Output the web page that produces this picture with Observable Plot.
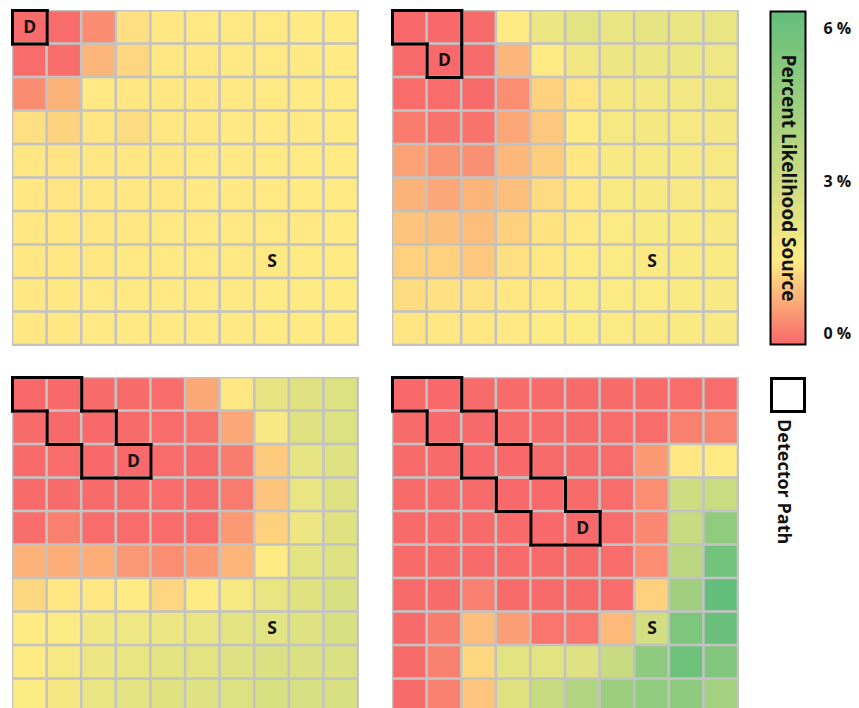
<!DOCTYPE html>
<html>
<head>
<meta charset="utf-8">
<script src="https://cdn.jsdelivr.net/npm/d3@7"></script>
<script src="https://cdn.jsdelivr.net/npm/@observablehq/plot@0.6"></script>
<style>
  html, body { margin: 0; padding: 0; background: #fff; overflow: hidden; }
  #wrap { position: relative; width: 859px; height: 708px; overflow: hidden; font-family: "Open Sans", sans-serif; color: #111; }
  #grids { position: absolute; left: 0; top: 0; }
  #scale { position: absolute; left: 750px; top: 0; }
  #pathKey { position: absolute; left: 770px; top: 377px; width: 30px; height: 30px; border: 3px solid #000; background: #fff; }
  #pathLabel { position: absolute; left: 774px; top: 419px; writing-mode: vertical-rl; font-size: 18px; font-weight: 700; line-height: 22px; }
</style>
</head>
<body>
<div id="wrap">
  <div id="grids"></div>
  <div id="scale"></div>
  <div id="pathKey"></div>
  <div id="pathLabel">Detector Path</div>
</div>
<script>
// Percent likelihood that each cell of the 10 x 10 area holds the source,
// after each of four detector moves (rows top to bottom, columns left to right).
const step1 = [
  [0.02, 0.03, 0.40, 1.36, 1.47, 1.48, 1.48, 1.48, 1.49, 1.49],
  [0.03, 0.04, 0.88, 1.25, 1.46, 1.46, 1.48, 1.48, 1.48, 1.49],
  [0.40, 0.85, 1.48, 1.45, 1.47, 1.47, 1.48, 1.48, 1.49, 1.49],
  [1.36, 1.22, 1.44, 1.33, 1.47, 1.47, 1.48, 1.48, 1.48, 1.49],
  [1.45, 1.42, 1.47, 1.46, 1.47, 1.48, 1.48, 1.48, 1.49, 1.49],
  [1.46, 1.42, 1.47, 1.47, 1.47, 1.48, 1.48, 1.48, 1.49, 1.49],
  [1.47, 1.46, 1.47, 1.47, 1.48, 1.48, 1.48, 1.48, 1.48, 1.49],
  [1.47, 1.47, 1.47, 1.48, 1.48, 1.48, 1.48, 1.48, 1.49, 1.49],
  [1.47, 1.47, 1.48, 1.48, 1.48, 1.48, 1.48, 1.49, 1.49, 1.49],
  [1.47, 1.47, 1.48, 1.48, 1.48, 1.48, 1.48, 1.49, 1.49, 1.49]
];
const step2 = [
  [0.00, 0.00, 0.02, 1.50, 2.05, 2.35, 2.10, 2.20, 2.10, 2.10],
  [0.02, 0.00, 0.02, 0.88, 1.50, 1.88, 2.00, 2.05, 2.05, 1.95],
  [0.03, 0.03, 0.02, 0.42, 1.20, 1.42, 1.80, 1.85, 1.85, 1.90],
  [0.22, 0.12, 0.12, 0.70, 1.10, 1.50, 1.75, 1.78, 1.75, 1.80],
  [0.66, 0.50, 0.45, 0.90, 1.15, 1.47, 1.68, 1.72, 1.72, 1.75],
  [0.85, 0.72, 0.86, 1.00, 1.30, 1.45, 1.65, 1.66, 1.66, 1.68],
  [1.05, 1.00, 0.97, 1.20, 1.40, 1.48, 1.58, 1.63, 1.63, 1.66],
  [1.20, 1.20, 1.10, 1.37, 1.47, 1.50, 1.60, 1.60, 1.62, 1.64],
  [1.33, 1.38, 1.40, 1.45, 1.48, 1.55, 1.60, 1.60, 1.63, 1.66],
  [1.43, 1.45, 1.46, 1.48, 1.50, 1.55, 1.60, 1.62, 1.65, 1.68]
];
const step3 = [
  [0.00, 0.00, 0.02, 0.02, 0.03, 0.73, 1.47, 2.17, 2.40, 2.50],
  [0.02, 0.00, 0.00, 0.02, 0.03, 0.12, 0.72, 1.70, 2.40, 2.50],
  [0.02, 0.03, 0.00, 0.00, 0.03, 0.02, 0.22, 1.12, 2.20, 2.45],
  [0.02, 0.02, 0.02, 0.02, 0.03, 0.02, 0.20, 1.05, 2.10, 2.45],
  [0.06, 0.26, 0.05, 0.03, 0.03, 0.05, 0.55, 1.20, 2.00, 2.40],
  [0.84, 0.78, 0.79, 0.53, 0.42, 0.55, 0.86, 1.50, 2.25, 2.45],
  [1.28, 1.45, 1.47, 1.50, 1.25, 1.52, 1.75, 2.10, 2.40, 2.60],
  [1.50, 1.60, 1.90, 1.95, 2.00, 2.10, 2.30, 2.35, 2.45, 2.60],
  [1.50, 1.72, 2.00, 2.15, 2.25, 2.30, 2.45, 2.55, 2.55, 2.55],
  [1.55, 1.80, 2.10, 2.25, 2.40, 2.45, 2.50, 2.60, 2.65, 2.60]
];
const step4 = [
  [0.00, 0.00, 0.02, 0.02, 0.02, 0.02, 0.02, 0.02, 0.03, 0.04],
  [0.02, 0.00, 0.00, 0.02, 0.02, 0.02, 0.03, 0.05, 0.25, 0.32],
  [0.02, 0.02, 0.00, 0.00, 0.02, 0.02, 0.03, 0.55, 1.45, 1.50],
  [0.02, 0.02, 0.02, 0.00, 0.00, 0.02, 0.03, 0.42, 2.90, 3.05],
  [0.02, 0.02, 0.02, 0.02, 0.00, 0.00, 0.03, 0.35, 3.10, 4.70],
  [0.02, 0.02, 0.02, 0.02, 0.02, 0.02, 0.03, 0.42, 3.45, 5.55],
  [0.02, 0.02, 0.27, 0.02, 0.02, 0.02, 0.03, 1.20, 4.25, 6.00],
  [0.02, 0.22, 0.98, 0.60, 0.14, 0.16, 0.92, 2.80, 5.20, 5.80],
  [0.02, 0.28, 1.28, 2.30, 2.30, 2.45, 3.06, 4.73, 5.65, 5.10],
  [0.02, 0.28, 1.06, 2.40, 3.10, 3.78, 4.36, 4.65, 4.72, 4.15]
];

// Cells visited by the detector so far, as [row, column]
const path1 = [[0, 0]];
const path2 = [[0, 0], [0, 1], [1, 1]];
const path3 = [[0, 0], [0, 1], [1, 1], [1, 2], [2, 2], [2, 3]];
const path4 = [[0, 0], [0, 1], [1, 1], [1, 2], [2, 2], [2, 3], [3, 3], [3, 4], [4, 4], [4, 5]];

// Current detector cell and the true source cell
const detectorCells = [[0, 0], [1, 1], [2, 3], [4, 5]];
const sourceCell = [7, 7];

// Colour key
const keyTicks = [0, 3, 6];
const keyTickLabels = ["0 %", "3 %", "6 %"];
const keyTitle = "Percent Likelihood Source";

const colorScale = {
  type: "linear",
  domain: [0, 1.5, 6],
  range: ["#f8696b", "#ffeb84", "#63be7b"],
  interpolate: "rgb"
};

const grids = [step1, step2, step3, step4];
const paths = [path1, path2, path3, path4];
const col = (p) => p % 2;
const row = (p) => Math.floor(p / 2);

const cells = grids.flatMap((g, p) =>
  g.flatMap((vals, r) => vals.map((v, c) => ({p, r, c, v})))
);

// Trace the border of the union of visited cells as unit segments
function outline(list, p) {
  const has = new Set(list.map(([r, c]) => r + "," + c));
  const segs = [];
  for (const [r, c] of list) {
    if (!has.has((r - 1) + "," + c)) segs.push({p, x1: c, y1: r, x2: c + 1, y2: r});
    if (!has.has((r + 1) + "," + c)) segs.push({p, x1: c, y1: r + 1, x2: c + 1, y2: r + 1});
    if (!has.has(r + "," + (c - 1))) segs.push({p, x1: c, y1: r, x2: c, y2: r + 1});
    if (!has.has(r + "," + (c + 1))) segs.push({p, x1: c + 1, y1: r, x2: c + 1, y2: r + 1});
  }
  return segs;
}
const edges = paths.flatMap((list, p) => outline(list, p));

const labels = detectorCells.flatMap(([r, c], p) => [
  {p, r, c, t: "D"},
  {p, r: sourceCell[0], c: sourceCell[1], t: "S"}
]);

const gridPlot = Plot.plot({
  width: 750,
  height: 712,
  marginLeft: 12,
  marginRight: 12,
  marginTop: 10,
  marginBottom: 0,
  style: {fontFamily: "'Open Sans', sans-serif", background: "transparent"},
  x: {domain: [0, 10], axis: null},
  y: {domain: [0, 10], reverse: true, axis: null},
  fx: {domain: [0, 1], paddingInner: 34 / 380, paddingOuter: 0, round: false, axis: null},
  fy: {domain: [0, 1], paddingInner: 32 / 367, paddingOuter: 0, round: false, axis: null},
  color: colorScale,
  marks: [
    Plot.frame({fill: "#c3c3c3", stroke: "#c3c3c3", strokeWidth: 1}),
    Plot.rect(cells, {
      x1: "c", x2: (d) => d.c + 1, y1: "r", y2: (d) => d.r + 1,
      fill: "v", inset: 1.3,
      fx: (d) => col(d.p), fy: (d) => row(d.p)
    }),
    Plot.link(edges, {
      x1: "x1", y1: "y1", x2: "x2", y2: "y2",
      stroke: "#000", strokeWidth: 3, strokeLinecap: "square",
      fx: (d) => col(d.p), fy: (d) => row(d.p)
    }),
    Plot.text(labels, {
      x: (d) => d.c + 0.5, y: (d) => d.r + 0.5, text: "t",
      fontSize: 17.5, fontWeight: 700, fill: "#111",
      fx: (d) => col(d.p), fy: (d) => row(d.p)
    })
  ]
});
document.getElementById("grids").append(gridPlot);

// Vertical colour ramp drawn from the same colour scale
const rampStep = 0.03;
const ramp = d3.range(0, 6, rampStep);
const tickOffsets = [-11, 4, 17];
const scalePlot = Plot.plot({
  width: 109,
  height: 360,
  marginLeft: 20,
  marginRight: 54,
  marginTop: 11,
  marginBottom: 16,
  style: {fontFamily: "'Open Sans', sans-serif", background: "transparent", overflow: "visible"},
  x: {domain: [0, 1], axis: null},
  y: {domain: [0, 6], axis: null},
  color: colorScale,
  marks: [
    Plot.rect(ramp, {
      x1: () => 0, x2: () => 1,
      y1: (d) => d, y2: (d) => Math.min(6, d + rampStep * 1.6),
      fill: (d) => d + rampStep / 2
    }),
    Plot.frame({stroke: "#000", strokeWidth: 2}),
    Plot.text([keyTitle], {
      frameAnchor: "middle", text: (d) => d, rotate: 90,
      fontSize: 19, fontWeight: 700, fill: "#111"
    }),
    ...keyTicks.map((v, i) =>
      Plot.text([v], {
        x: () => 1, y: (d) => d, text: () => keyTickLabels[i],
        dx: 18, dy: tickOffsets[i], textAnchor: "start",
        fontSize: 16, fontWeight: 700, fill: "#111"
      })
    )
  ]
});
document.getElementById("scale").append(scalePlot);
</script>
</body>
</html>
